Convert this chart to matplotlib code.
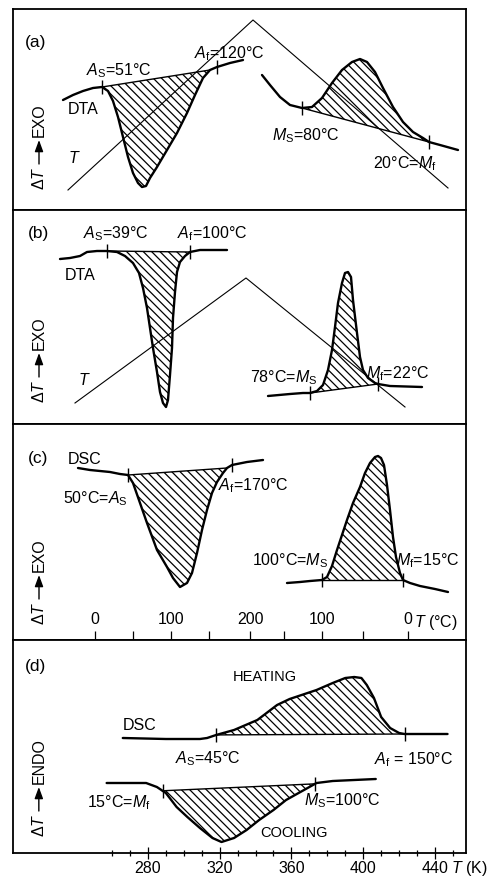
import numpy as np
import matplotlib
matplotlib.use('Agg')
import matplotlib.pyplot as plt
from matplotlib import font_manager
from matplotlib.transforms import offset_copy

installed = {f.name for f in font_manager.fontManager.ttflist}
narrow = 'Liberation Sans Narrow' if 'Liberation Sans Narrow' in installed else 'Liberation Sans'
fs = 12.5 if narrow.endswith('Narrow') else 11.5
plt.rcParams['font.family'] = [narrow, 'DejaVu Sans']
plt.rcParams['mathtext.fontset'] = 'custom'
plt.rcParams['mathtext.rm'] = narrow
plt.rcParams['mathtext.it'] = narrow + ':italic'
plt.rcParams['mathtext.bf'] = narrow + ':bold'
plt.rcParams['hatch.linewidth'] = 0.9
plt.rcParams['font.size'] = fs

# (a) DTA, heating then cooling; x = time (arb.), y = dT (arb.)
a_heat_x = [63, 73, 83, 93, 102, 108, 113, 118, 123, 128, 133, 138, 142, 146, 150,
            157, 167, 177, 187, 195, 203, 210, 217, 230, 243]
a_heat_y = [110, 115, 119, 122, 123, 119, 109, 93, 73, 53, 37, 27, 23, 24, 32,
            43, 60, 77, 97, 115, 132, 140, 143, 147, 150]
a_cool_x = [262, 270, 280, 290, 302, 312, 322, 332, 342, 352, 360, 367, 375, 383,
            393, 403, 413, 423, 429, 440, 458]
a_cool_y = [135, 125, 113, 105, 102, 103, 112, 127, 140, 148, 151, 148, 138, 122,
            103, 88, 78, 72, 68, 65, 60]
a_temp_x = [68, 253, 448]
a_temp_y = [20, 190, 22]
a_heat_marks = [102, 217]      # As, Af
a_cool_marks = [302, 429]      # Ms, Mf
a_heat_base = [102, 210]
a_cool_base = [302, 429]

# (b) DTA
b_heat_x = [60, 70, 80, 87, 97, 107, 117, 125, 133, 139, 143, 147, 150, 153, 157,
            160, 163, 166, 168, 170, 172, 173, 175, 177, 180, 185, 190, 200, 227]
b_heat_y = [165, 166, 168, 172, 173, 173, 172, 168, 161, 151, 136, 116, 96, 76, 52,
            32, 21, 17, 24, 49, 76, 106, 132, 152, 162, 168, 172, 174, 174]
b_cool_x = [268, 290, 303, 310, 317, 323, 328, 332, 335, 338, 342, 345, 348, 351,
            353, 357, 360, 363, 368, 375, 378, 390, 422]
b_cool_y = [28, 30, 31, 31, 33, 39, 54, 74, 97, 121, 141, 151, 152, 147,
            124, 91, 67, 54, 46, 41, 40, 38, 37]
b_temp_x = [75, 246, 405]
b_temp_y = [21, 146, 17]
b_heat_marks = [107, 190]
b_cool_marks = [310, 378]
b_heat_base = [107, 190]
b_cool_base = [310, 378]

# (c) DSC
c_heat_x = [78, 90, 100, 110, 120, 128, 133, 140, 147, 157, 167, 173, 180, 187, 192,
            197, 202, 207, 212, 217, 223, 227, 232, 247, 263]
c_heat_y = [172, 170, 169, 168, 166, 165, 157, 137, 117, 90, 73, 62, 53, 57, 67,
            87, 110, 130, 147, 158, 167, 172, 175, 178, 180]
c_cool_x = [287, 300, 310, 322, 327, 332, 337, 342, 347, 353, 360, 365, 370, 375,
            378, 381, 384, 387, 390, 393, 396, 400, 403, 410, 420, 435, 448]
c_cool_y = [57, 58, 59, 60, 63, 74, 90, 105, 120, 137, 153, 167, 177, 183,
            184, 182, 175, 155, 130, 103, 83, 67, 60, 57, 54, 51, 48]
c_heat_marks = [128, 232]
c_cool_marks = [322, 403]
c_heat_base = [128, 227]
c_cool_base = [322, 403]
c_major_pos = [95, 171, 250, 322, 408]
c_minor_pos = [133, 209, 284, 363]
c_tick_labels = ['0', '100', '200', '100', '0']

# (d) DSC against T in K
d_heat_T = [266, 290, 309, 313, 318, 328, 341, 352, 359, 374, 383, 390, 395, 399,
            402, 406, 410, 415, 420, 423, 447]
d_heat_y = [115, 114, 114, 115, 118, 123, 133, 148, 154, 163, 170, 175, 176, 175,
            168, 155, 136, 125, 120, 119, 119]
d_cool_T = [257, 279, 285, 290, 296, 302, 309, 316, 321, 328, 335, 342, 350, 357,
            365, 374, 383, 407]
d_cool_y = [70, 70, 66, 60, 46, 36, 25, 15, 11, 15, 23, 33, 43, 53,
            61, 70, 72, 74]
d_As, d_Af, d_Ms, d_Mf = 45, 150, 100, 15        # degC
d_major = [280, 320, 360, 400, 440]
d_minor = list(range(260, 451, 10))

W, H = 490, 883
fig = plt.figure(figsize=(W / 100, H / 100), dpi=100)


def panel(top, bottom, xlim):
    ax = fig.add_axes([13 / W, 1 - bottom / H, 453 / W, (bottom - top) / H])
    ax.set_xlim(*xlim)
    ax.set_ylim(0, bottom - top)
    ax.set_xticks([])
    ax.set_yticks([])
    for s in ax.spines.values():
        s.set_linewidth(1.3)
    return ax


def trace(ax, x, y, marks, base):
    x = np.asarray(x, float)
    y = np.asarray(y, float)
    ax.plot(x, y, color='k', lw=1.7, solid_joinstyle='round', solid_capstyle='round')
    x0, x1 = base
    inner = (x > x0) & (x < x1)
    xs = np.concatenate([[x0], x[inner], [x1]])
    ys = np.interp(xs, x, y)
    chord = np.interp(xs, [x0, x1], [ys[0], ys[-1]])
    ax.plot([x0, x1], [ys[0], ys[-1]], color='k', lw=1.0)
    ax.fill_between(xs, ys, chord, facecolor='none', edgecolor='k', hatch='\\\\\\\\', lw=0)
    ax.plot(marks, np.interp(marks, x, y), ls='none', marker='|', ms=10, mew=1.0, color='k')


def side_label(ax, x, y, word):
    def tr(dy):
        return offset_copy(ax.transData, fig=fig, x=0, y=dy, units='dots')
    ax.text(x, y, r'$\Delta T$', transform=tr(0), rotation=90, ha='center', va='bottom')
    ax.annotate('', xy=(x, y), xytext=(x, y), xycoords=tr(50), textcoords=tr(26),
                arrowprops=dict(arrowstyle='-|>,head_length=0.6,head_width=0.22',
                                lw=1.0, color='k', shrinkA=0, shrinkB=0))
    ax.text(x, y, word, transform=tr(53), rotation=90, ha='center', va='bottom')


def note(ax, x, y, s):
    ax.text(x, y, s, ha='left', va='baseline')


# ---- (a)
ax = panel(9, 210, (13, 466))
ax.plot(a_temp_x, a_temp_y, color='k', lw=0.8)
trace(ax, a_heat_x, a_heat_y, a_heat_marks, a_heat_base)
trace(ax, a_cool_x, a_cool_y, a_cool_marks, a_cool_base)
ax.text(36, 168, '(a)', ha='center', va='center', fontsize=fs + 1)
ax.text(83, 100, 'DTA', ha='center', va='center')
ax.text(74, 52, '$T$', ha='center', va='center')
note(ax, 86, 135, r'$A_\mathrm{S}$=51°C')
note(ax, 194, 152, r'$A_\mathrm{f}$=120°C')
note(ax, 272, 70, r'$M_\mathrm{S}$=80°C')
note(ax, 373, 42, r'20°C=$M_\mathrm{f}$')
side_label(ax, 39, 20, 'EXO')

# ---- (b)
ax = panel(210, 424, (13, 466))
ax.plot(b_temp_x, b_temp_y, color='k', lw=0.8)
trace(ax, b_heat_x, b_heat_y, b_heat_marks, b_heat_base)
trace(ax, b_cool_x, b_cool_y, b_cool_marks, b_cool_base)
ax.text(38, 190, '(b)', ha='center', va='center', fontsize=fs + 1)
ax.text(80, 148, 'DTA', ha='center', va='center')
ax.text(84, 44, '$T$', ha='center', va='center')
note(ax, 83, 186, r'$A_\mathrm{S}$=39°C')
note(ax, 177, 186, r'$A_\mathrm{f}$=100°C')
note(ax, 250, 42, r'78°C=$M_\mathrm{S}$')
note(ax, 366, 46, r'$M_\mathrm{f}$=22°C')
side_label(ax, 39, 21, 'EXO')

# ---- (c)
ax = panel(424, 640, (13, 466))
trace(ax, c_heat_x, c_heat_y, c_heat_marks, c_heat_base)
trace(ax, c_cool_x, c_cool_y, c_cool_marks, c_cool_base)
ax.set_xticks(c_major_pos, c_tick_labels)
ax.set_xticks(c_minor_pos, minor=True)
ax.tick_params(axis='x', which='both', direction='in', length=6.5, width=0.9,
               pad=-20, labelsize=fs)
ax.text(38, 182, '(c)', ha='center', va='center', fontsize=fs + 1)
ax.text(85, 180, 'DSC', ha='center', va='center')
note(ax, 63, 137, r'50°C=$A_\mathrm{S}$')
note(ax, 218, 150, r'$A_\mathrm{f}$=170°C')
note(ax, 252, 75, r'100°C=$M_\mathrm{S}$')
note(ax, 396, 75, r'$M_\mathrm{f}$=15°C')
ax.text(414, 17, r'$T$ (°C)', ha='left', va='center')
side_label(ax, 39, 15, 'EXO')

# ---- (d)
ax = panel(640, 853, (204.8, 457.3))
trace(ax, d_heat_T, d_heat_y, [d_As + 273.15, d_Af + 273.15],
      [d_As + 273.15, d_Af + 273.15])
trace(ax, d_cool_T, d_cool_y, [d_Mf + 273.15, d_Ms + 273.15],
      [d_Mf + 273.15, d_Ms + 273.15])
ax.set_xticks(d_major)
ax.set_xticks(d_minor, minor=True)
ax.tick_params(axis='x', which='major', direction='inout', length=8, width=0.9,
               pad=2, labelsize=fs)
ax.tick_params(axis='x', which='minor', direction='inout', length=4, width=0.9)
ax.text(217.6, 186, '(d)', ha='center', va='center', fontsize=fs + 1)
ax.text(345.2, 176, 'HEATING', ha='center', va='center', fontsize=fs - 1)
ax.text(275.5, 128, 'DSC', ha='center', va='center')
note(ax, 295, 90, r'$A_\mathrm{S}$=45°C')
note(ax, 406, 89, r'$A_\mathrm{f}$ = 150°C')
note(ax, 246, 46, r'15°C=$M_\mathrm{f}$')
note(ax, 367, 48, r'$M_\mathrm{S}$=100°C')
ax.text(361.4, 20, 'COOLING', ha='center', va='center', fontsize=fs - 1)
ax.text(449, -15, r'$T$ (K)', ha='left', va='center')
side_label(ax, 219.2, 16, 'ENDO')

fig.savefig('out.png', dpi=100)
